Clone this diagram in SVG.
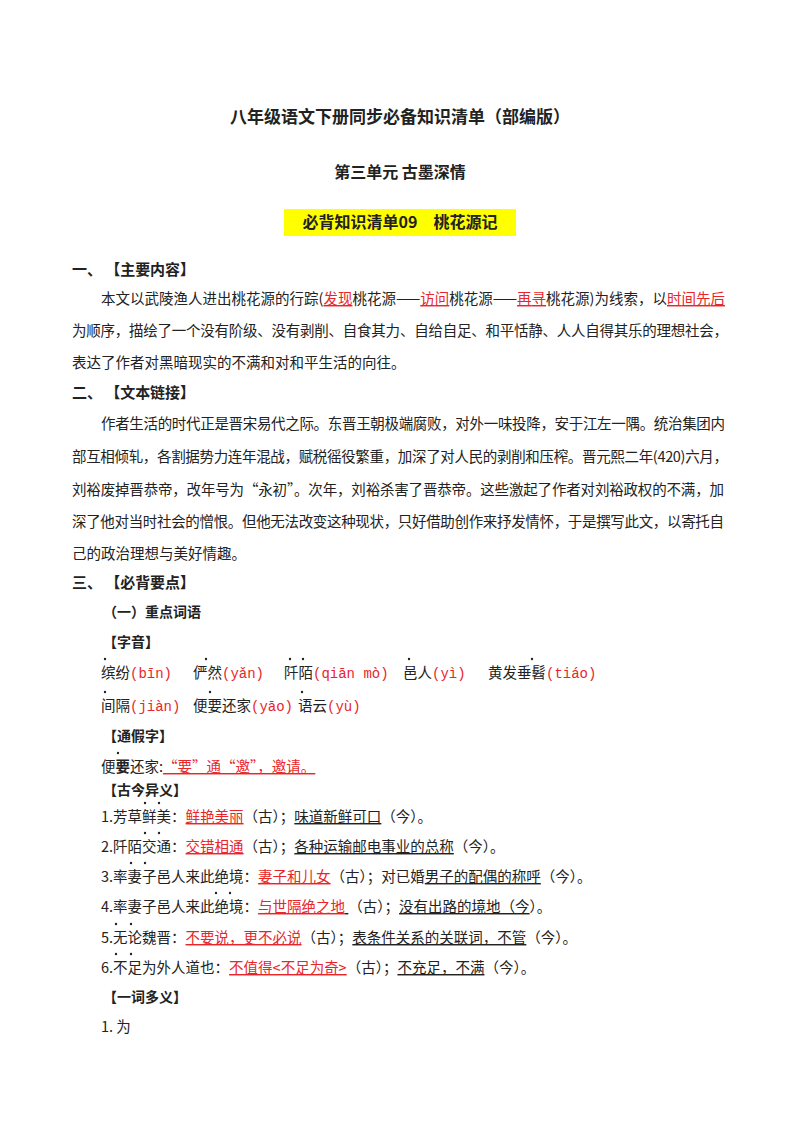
<svg xmlns="http://www.w3.org/2000/svg" width="800" height="1132" viewBox="0 0 800 1132">
<style>
text{font-family:"Noto Sans CJK SC","Liberation Serif",serif;font-size:14.5px;fill:#222}
.b{font-weight:bold}
.r{fill:#e8262a}
.u{text-decoration:underline}
.c{text-anchor:middle}
.m{font-family:"Liberation Mono","Noto Sans CJK SC",monospace;font-size:14px}
circle{fill:#222}
</style>
<rect width="800" height="1132" fill="#fff"/>
<text class="b c" x="400" y="123" style="font-size:17px">八年级语文下册同步必备知识清单（部编版）</text>
<text class="b c" x="400" y="178" style="font-size:16px">第三单元 古墨深情</text>
<rect x="284" y="209" width="232" height="27" fill="#ffff00"/>
<text class="b c" x="400" y="228" style="font-size:16px">必背知识清单09　桃花源记</text>

<text class="b" x="72" y="275" style="font-size:15px" textLength="123" lengthAdjust="spacing">一、 【主要内容】</text>
<text x="101" y="304" textLength="624" lengthAdjust="spacing">本文以武陵渔人进出桃花源的行踪(<tspan class="r u">发现</tspan>桃花源——<tspan class="r u">访问</tspan>桃花源——<tspan class="r u">再寻</tspan>桃花源)为线索，以<tspan class="r u">时间先后</tspan></text>
<text x="72" y="336" textLength="656" lengthAdjust="spacing">为顺序，描绘了一个没有阶级、没有剥削、自食其力、自给自足、和平恬静、人人自得其乐的理想社会，</text>
<text x="72" y="368">表达了作者对黑暗现实的不满和对和平生活的向往。</text>

<text class="b" x="72" y="398" style="font-size:15px" textLength="123" lengthAdjust="spacing">二、 【文本链接】</text>
<text x="101" y="429" textLength="624" lengthAdjust="spacing">作者生活的时代正是晋宋易代之际。东晋王朝极端腐败，对外一味投降，安于江左一隅。统治集团内</text>
<text x="72" y="462" textLength="656" lengthAdjust="spacing">部互相倾轧，各割据势力连年混战，赋税徭役繁重，加深了对人民的剥削和压榨。晋元熙二年(420)六月，</text>
<text x="72" y="495" textLength="652" lengthAdjust="spacing">刘裕废掉晋恭帝，改年号为“永初”。次年，刘裕杀害了晋恭帝。这些激起了作者对刘裕政权的不满，加</text>
<text x="72" y="527" textLength="652" lengthAdjust="spacing">深了他对当时社会的憎恨。但他无法改变这种现状，只好借助创作来抒发情怀，于是撰写此文，以寄托自</text>
<text x="72" y="559">己的政治理想与美好情趣。</text>

<text class="b" x="72" y="588" style="font-size:15px" textLength="123" lengthAdjust="spacing">三、 【必背要点】</text>
<text class="b" x="103" y="617" style="font-size:14px">（一）重点词语</text>
<text class="b" x="103" y="647" style="font-size:14px">【字音】</text>
<g id="ziyin">
<text x="101" y="678">缤纷<tspan class="r m">(bīn)</tspan></text>
<text x="193" y="678">俨然<tspan class="r m">(yǎn)</tspan></text>
<text x="284" y="678">阡陌<tspan class="r m">(qiān mò)</tspan></text>
<text x="403" y="678">邑人<tspan class="r m">(yì)</tspan></text>
<text x="488" y="678">黄发垂髫<tspan class="r m">(tiáo)</tspan></text>
<text x="101" y="711">间隔<tspan class="r m">(jiàn)</tspan></text>
<text x="193" y="711">便要还家<tspan class="r m">(yāo)</tspan></text>
<text x="298" y="711">语云<tspan class="r m">(yù)</tspan></text>
<circle cx="105" cy="659" r="1.2"/><circle cx="206" cy="659" r="1.2"/><circle cx="290" cy="659" r="1.2"/><circle cx="303" cy="659" r="1.2"/>
<circle cx="409" cy="659" r="1.2"/><circle cx="532" cy="659" r="1.2"/>
<circle cx="105" cy="692" r="1.2"/><circle cx="210" cy="692" r="1.2"/><circle cx="302" cy="692" r="1.2"/>
</g>
<text class="b" x="103" y="741" style="font-size:14px">【通假字】</text>
<text x="101" y="772">便<tspan class="b">要</tspan>还家:<tspan class="r u">“要”通“邀”，邀请。</tspan></text>
<circle cx="118" cy="753" r="1.2"/>

<text class="b" x="103" y="795" style="font-size:14px">【古今异义】</text>
<g id="gujin">
<text x="101" y="822">1.芳草鲜美：<tspan class="r u">鲜艳美丽</tspan>（古）；<tspan class="u">味道新鲜可口</tspan>（今）。</text>
<text x="101" y="852">2.阡陌交通：<tspan class="r u">交错相通</tspan>（古）；<tspan class="u">各种运输邮电事业的总称</tspan>（今）。</text>
<text x="101" y="882">3.率妻子邑人来此绝境：<tspan class="r u">妻子和儿女</tspan>（古）；对已婚<tspan class="u">男子的配偶的称呼</tspan>（今）。</text>
<text x="101" y="912">4.率妻子邑人来此绝境：<tspan class="r u">与世隔绝之地</tspan><tspan class="u"> </tspan>（古）；<tspan class="u">没有出路的境地（今</tspan>）。</text>
<text x="101" y="943">5.无论魏晋：<tspan class="r u">不要说，更不必说</tspan>（古）；<tspan class="u">表条件关系的关联词，不管</tspan>（今）。</text>
<text x="101" y="973">6.不足为外人道也：<tspan class="r u">不值得&lt;不足为奇&gt;</tspan>（古）；<tspan class="u">不充足，不满</tspan>（今）。</text>
<circle cx="145" cy="803" r="1.2"/><circle cx="159" cy="803" r="1.2"/>
<circle cx="145" cy="833" r="1.2"/><circle cx="159" cy="833" r="1.2"/>
<circle cx="131" cy="863" r="1.2"/><circle cx="145" cy="863" r="1.2"/>
<circle cx="216" cy="893" r="1.2"/><circle cx="230" cy="893" r="1.2"/>
<circle cx="116" cy="924" r="1.2"/><circle cx="131" cy="924" r="1.2"/>
<circle cx="116" cy="954" r="1.2"/><circle cx="131" cy="954" r="1.2"/>
</g>
<text class="b" x="103" y="1002" style="font-size:14px">【一词多义】</text>
<text x="101" y="1032">1. 为</text>
</svg>
